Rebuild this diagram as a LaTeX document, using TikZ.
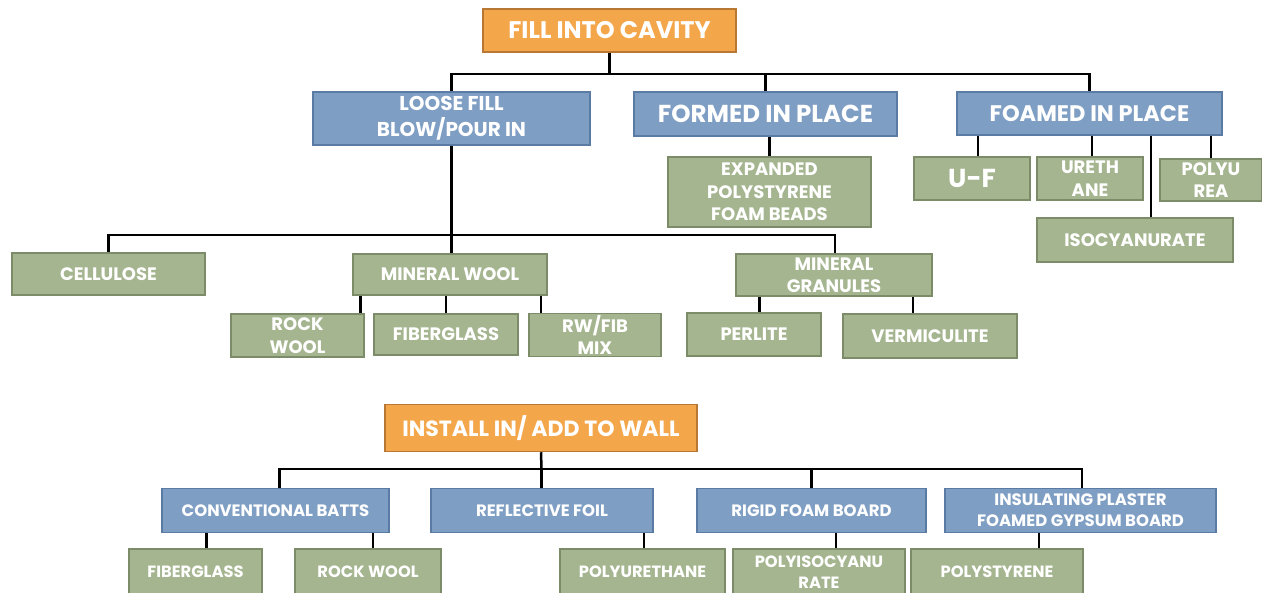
\documentclass[tikz,border=0pt]{standalone}
\usepackage{fontspec}
\setmainfont{Poppins}
\definecolor{headfill}{HTML}{F4A64A}
\definecolor{headline}{HTML}{B87732}
\definecolor{groupfill}{HTML}{7F9EC4}
\definecolor{groupline}{HTML}{5A7BA3}
\definecolor{leaffill}{HTML}{A5B590}
\definecolor{leafline}{HTML}{7D8C68}
\newcommand{\boxfont}[2]{\fontsize{#1}{#2}\selectfont\bfseries}

\begin{document}
\begin{tikzpicture}[x=1pt, y=-1pt]
	\useasboundingbox (0,0) rectangle (1262,593);
	\tikzstyle{every node}=[align=center, inner sep=0pt, text=white, line width=1.5pt]
	\tikzstyle{head}=[draw=headline, fill=headfill]
	\tikzstyle{group}=[draw=groupline, fill=groupfill]
	\tikzstyle{leaf}=[draw=leafline, fill=leaffill, font=\boxfont{18}{22.5}]
	\tikzstyle{link}=[line width=2.5pt]
	\begin{scope}
		\node[head, minimum width=253, minimum height=43, font=\boxfont{24}{28}] (cavity) at (609.5, 30.5) {FILL INTO CAVITY};
		\node[group, minimum width=277, minimum height=53, font=\boxfont{20}{26}] (loose) at (451.5, 118.5) {LOOSE FILL\\BLOW/POUR IN};
		\node[group, minimum width=263, minimum height=44, font=\boxfont{24.5}{28}] (formed) at (765.5, 114) {FORMED IN PLACE};
		\node[group, minimum width=265, minimum height=43, font=\boxfont{22.5}{28}] (foamed) at (1089.5, 113.5) {FOAMED IN PLACE};
		\node[leaf, minimum width=203, minimum height=70] (beads) at (769.5, 192) {EXPANDED\\POLYSTYRENE\\FOAM BEADS};
		\node[leaf, minimum width=116, minimum height=43, font=\boxfont{26}{30}] (uf) at (972, 178.5) {U-F};
		\node[leaf, minimum width=106, minimum height=43] (ureth) at (1090, 178.5) {URETH\\ANE};
		\node[leaf, minimum width=102, minimum height=42] (polyurea) at (1211, 180) {POLYU\\REA};
		\node[leaf, minimum width=196, minimum height=44] (iso) at (1135, 240) {ISOCYANURATE};
		\node[leaf, minimum width=193, minimum height=42] (cellulose) at (108.5, 274) {CELLULOSE};
		\node[leaf, minimum width=194, minimum height=41] (mwool) at (450, 274.5) {MINERAL WOOL};
		\node[leaf, minimum width=196, minimum height=42] (granules) at (834, 275) {MINERAL\\GRANULES};
		\node[leaf, minimum width=133, minimum height=43] (rock) at (297.5, 335.5) {ROCK\\WOOL};
		\node[leaf, minimum width=144, minimum height=41] (fiber) at (446, 334.5) {FIBERGLASS};
		\node[leaf, minimum width=132, minimum height=43] (rwfib) at (595, 335) {RW/FIB\\MIX};
		\node[leaf, minimum width=134, minimum height=43] (perlite) at (754, 334.5) {PERLITE};
		\node[leaf, minimum width=174, minimum height=44] (verm) at (930, 336) {VERMICULITE};

		\coordinate (split1) at (609.5, 74);
		\coordinate (split2) at (451.5, 235);
		\draw[link] (cavity.south) -- (split1);
		\draw[link] (loose.north) |- (split1) -| (foamed.north);
		\draw[link] (split1 -| formed.north) -- (formed.north);
		\draw[link] (formed.south -| beads.north) -- (beads.north);
		\draw[link] ([xshift=6]uf.north |- foamed.south) -- ([xshift=6]uf.north);
		\draw[link] ([xshift=2]ureth.north |- foamed.south) -- ([xshift=2]ureth.north);
		\draw[link] ([xshift=16]iso.north |- foamed.south) -- ([xshift=16]iso.north);
		\draw[link] (polyurea.north |- foamed.south) -- (polyurea.north);
		\draw[link] (loose.south) -- (loose.south |- mwool.north);
		\draw[link] (cellulose.north) |- (split2) -| ([xshift=1]granules.north);
		\draw[link] ([xshift=8]mwool.south west) -- ([xshift=8]mwool.south west |- rock.north);
		\draw[link] (mwool.south -| fiber.north) -- (fiber.north);
		\draw[link] ([xshift=-7]mwool.south east) -- ([xshift=-7]mwool.south east |- rwfib.north);
		\draw[link] ([xshift=24]granules.south west) -- ([xshift=24]granules.south west |- perlite.north);
		\draw[link] ([xshift=-20]granules.south east) -- ([xshift=-20]granules.south east |- verm.north);
	\end{scope}
	\begin{scope}
		\node[head, minimum width=312, minimum height=47, font=\boxfont{22}{26}] (wall) at (541, 428) {INSTALL IN/ ADD TO WALL};
		\tikzstyle{group}=[draw=groupline, fill=groupfill, minimum height=44, font=\boxfont{16.5}{21}]
		\tikzstyle{leaf}=[draw=leafline, fill=leaffill, minimum height=46, font=\boxfont{16.3}{20.5}]
		\node[group, minimum width=227] (batts) at (275.5, 510.5) {CONVENTIONAL BATTS};
		\node[group, minimum width=222] (foil) at (542, 510.5) {REFLECTIVE FOIL};
		\node[group, minimum width=229] (rigid) at (811.5, 510.5) {RIGID FOAM BOARD};
		\node[group, minimum width=271] (plaster) at (1080.5, 510.5) {INSULATING PLASTER\\FOAMED GYPSUM BOARD};
		\node[leaf, minimum width=133] (bfiber) at (195.5, 572) {FIBERGLASS};
		\node[leaf, minimum width=146] (brock) at (368, 572) {ROCK WOOL};
		\node[leaf, minimum width=165] (urethane) at (642.5, 572) {POLYURETHANE};
		\node[leaf, minimum width=172] (polyiso) at (819, 572) {POLYISOCYANU\\RATE};
		\node[leaf, minimum width=172] (styrene) at (997, 572) {POLYSTYRENE};

		\coordinate (split3) at (541.5, 469);
		\draw[link] (wall.south) -- (split3);
		\draw[link] ([xshift=4]batts.north) |- (split3) -| ([xshift=1.5]plaster.north);
		\draw[link] (split3) -- (split3 |- foil.north);
		\draw[link] (split3 -| rigid.north) -- (rigid.north);
		\draw[link] ([xshift=11]bfiber.north |- batts.south) -- ([xshift=11]bfiber.north);
		\draw[link] ([xshift=5]brock.north |- batts.south) -- ([xshift=5]brock.north);
		\draw[link] ([xshift=1.5]urethane.north |- foil.south) -- ([xshift=1.5]urethane.north);
		\draw[link] ([xshift=17]polyiso.north |- rigid.south) -- ([xshift=17]polyiso.north);
		\draw[link] ([xshift=42]styrene.north |- plaster.south) -- ([xshift=42]styrene.north);
	\end{scope}
\end{tikzpicture}
\end{document}
